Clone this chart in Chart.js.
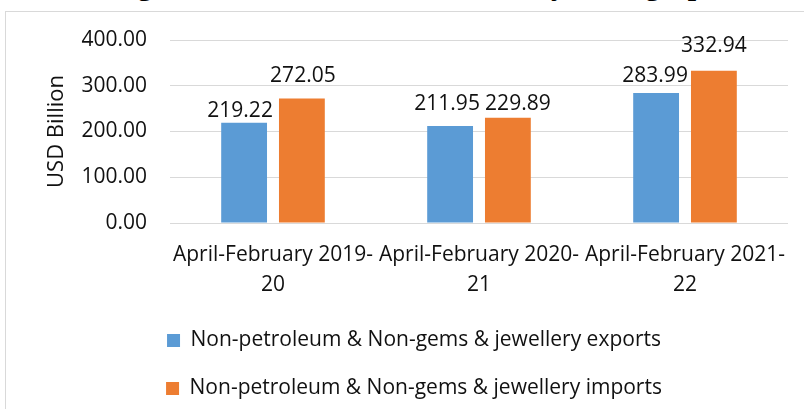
<!DOCTYPE html>
<html>
<head>
<meta charset="utf-8">
<script src="https://cdn.jsdelivr.net/npm/chart.js@4.4.1/dist/chart.umd.min.js"></script>
<style>
  html, body { margin: 0; padding: 0; background: #fff; overflow: hidden; }
  body { width: 804px; height: 409px; position: relative; }
  #title {
    position: absolute; left: 0; top: -30px; z-index: 0;
    font: bold 30px "Liberation Serif", "Times New Roman", serif;
    line-height: 30px; white-space: nowrap; color: #000;
  }
  #frame {
    position: absolute; left: 5px; top: 11px; width: 830px; height: 430px; z-index: 1;
    border: 1px solid #d9d9d9; box-sizing: border-box; background: #fff;
  }
  #wrap { position: absolute; left: 0; top: 0; width: 804px; height: 409px; z-index: 2; }
</style>
</head>
<body>
<div id="title">Non-petroleum Exports excluding Petroleum, Gems and <span id="mark">Jewellery</span> during April-February 2021-22</div>
<div id="frame"></div>
<div id="wrap"><canvas id="chart"></canvas></div>
<script>
// chart values
const categories = [
  ['April-February 2019-', '20'],
  ['April-February 2020-', '21'],
  ['April-February 2021-', '22']
];
const exportsValues = [219.22, 211.95, 283.99];
const importsValues = [272.05, 229.89, 332.94];
const seriesNames = [
  'Non-petroleum & Non-gems & jewellery exports',
  'Non-petroleum & Non-gems & jewellery imports'
];
const yTicks = [0, 100, 200, 300, 400];
const axisTitle = 'USD Billion';

// the source labels were nudged by hand: [dx, lift above bar top] in px
const exportsLabelNudge = [[-4, 12], [-3, 22], [-1, 17]];
const importsLabelNudge = [[1, 23], [10, 14], [0, 25]];

const textColor = '#111';
const fontFamily = '"Open Sans", "Noto Sans", sans-serif';

// the clipped heading above the frame: only its descenders show
const title = document.getElementById('title');
const mark = document.getElementById('mark');
title.style.left = (566 - (mark.offsetLeft + mark.offsetWidth)) + 'px';

// draws the numbers above the bars
const valueLabels = {
  id: 'valueLabels',
  afterDatasetsDraw(chart) {
    const ctx = chart.ctx;
    const nudges = [exportsLabelNudge, importsLabelNudge];
    ctx.save();
    ctx.font = '21px ' + fontFamily;
    ctx.fillStyle = textColor;
    ctx.textAlign = 'center';
    ctx.textBaseline = 'middle';
    chart.data.datasets.forEach((ds, i) => {
      chart.getDatasetMeta(i).data.forEach((bar, j) => {
        const [dx, lift] = nudges[i][j];
        ctx.fillText(ds.data[j].toFixed(2), bar.x + dx, bar.y - lift);
      });
    });
    ctx.restore();
  }
};

const ctx = document.getElementById('chart').getContext('2d');
new Chart(ctx, {
  type: 'bar',
  data: {
    labels: categories,
    datasets: [
      {
        label: seriesNames[0],
        data: exportsValues,
        backgroundColor: '#5b9bd5',
        categoryPercentage: 0.561,
        barPercentage: 0.793
      },
      {
        label: seriesNames[1],
        data: importsValues,
        backgroundColor: '#ed7d31',
        categoryPercentage: 0.561,
        barPercentage: 0.793
      }
    ]
  },
  options: {
    responsive: true,
    maintainAspectRatio: false,
    animation: false,
    layout: { padding: { left: 40, right: 16, top: 40, bottom: 0 } },
    scales: {
      x: {
        grid: { display: false },
        border: { display: false },
        ticks: {
          color: textColor,
          font: { family: fontFamily, size: 21, lineHeight: 1.43 },
          padding: 9,
          maxRotation: 0,
          autoSkip: false
        },
        afterFit(scale) { scale.height = 80; }
      },
      y: {
        min: yTicks[0],
        max: yTicks[yTicks.length - 1],
        afterBuildTicks(scale) { scale.ticks = yTicks.map(v => ({ value: v })); },
        grid: { color: '#d9d9d9', lineWidth: 1, drawTicks: false },
        border: { display: false },
        ticks: {
          color: textColor,
          font: { family: fontFamily, size: 21 },
          padding: 23,
          callback: v => Number(v).toFixed(2)
        },
        title: {
          display: true,
          text: axisTitle,
          color: textColor,
          font: { family: fontFamily, size: 22 },
          padding: { top: 4, bottom: 0 }
        },
        afterFit(scale) { scale.width = 130; }
      }
    },
    plugins: {
      legend: {
        position: 'bottom',
        labels: {
          color: textColor,
          font: { family: fontFamily, size: 21 },
          boxWidth: 13,
          boxHeight: 13,
          padding: 27
        }
      },
      tooltip: { enabled: false }
    }
  },
  plugins: [valueLabels]
});
</script>
</body>
</html>
